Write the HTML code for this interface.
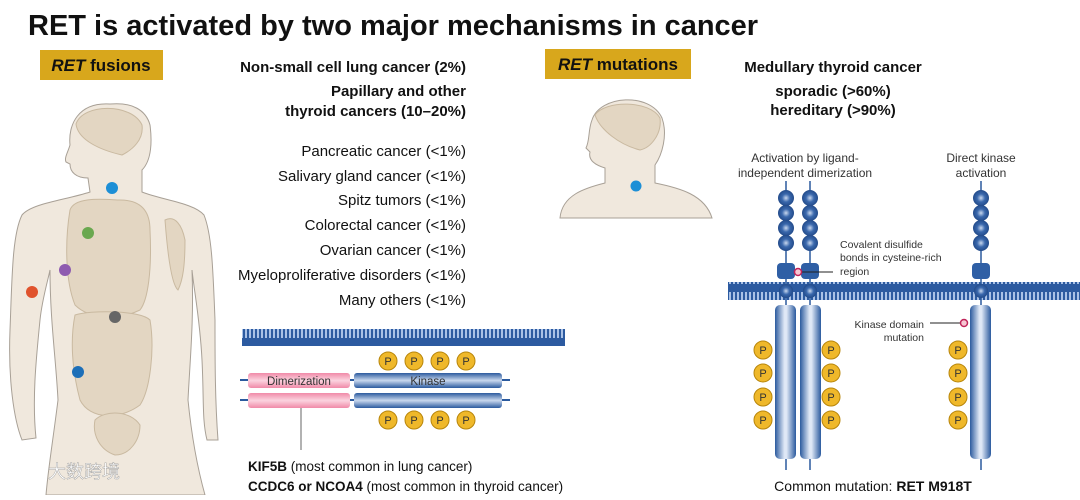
<!DOCTYPE html>
<html><head><meta charset="utf-8"><style>
body{margin:0;width:1080px;height:495px;background:#fff;overflow:hidden;font-family:"Liberation Sans",Arial,sans-serif}
</style></head><body>
<svg width="1080" height="495" viewBox="0 0 1080 495" xmlns="http://www.w3.org/2000/svg" font-family="Liberation Sans, Arial, sans-serif">
<defs>
<pattern id="mem" width="4" height="18" patternUnits="userSpaceOnUse"><rect width="4" height="18" fill="#2c5aa0"/><rect x="1" y="4" width="2" height="10" fill="#a9c1e6"/></pattern>
<linearGradient id="tube" x1="0" x2="1"><stop offset="0" stop-color="#2b5a9e"/><stop offset="0.45" stop-color="#dfe8f6"/><stop offset="0.55" stop-color="#dfe8f6"/><stop offset="1" stop-color="#2b5a9e"/></linearGradient>
<linearGradient id="htube" x1="0" y1="0" x2="0" y2="1"><stop offset="0" stop-color="#2b5a9e"/><stop offset="0.5" stop-color="#c9d8ee"/><stop offset="1" stop-color="#2b5a9e"/></linearGradient>
<linearGradient id="ptube" x1="0" y1="0" x2="0" y2="1"><stop offset="0" stop-color="#f08aa8"/><stop offset="0.5" stop-color="#fbd3df"/><stop offset="1" stop-color="#f08aa8"/></linearGradient>
<radialGradient id="ball" cx="0.5" cy="0.5" r="0.5"><stop offset="0" stop-color="#c9d8ee"/><stop offset="0.5" stop-color="#3a68ad"/><stop offset="1" stop-color="#234b8a"/></radialGradient>
<g id="P"><circle r="9" fill="#efb82a" stroke="#b8860b" stroke-width="1"/><text y="4" text-anchor="middle" font-size="11" fill="#333">P</text></g>
</defs>

<text x="28" y="35" font-size="29" font-weight="bold" fill="#111">RET is activated by two major mechanisms in cancer</text>

<rect x="40" y="50" width="123" height="30" fill="#d8a71c"/>
<text x="101" y="71" text-anchor="middle" font-size="17" font-weight="bold" fill="#111"><tspan font-style="italic">RET</tspan> fusions</text>
<rect x="545" y="49" width="146" height="30" fill="#d8a71c"/>
<text x="618" y="70" text-anchor="middle" font-size="17" font-weight="bold" fill="#111"><tspan font-style="italic">RET</tspan> mutations</text>

<!-- body -->
<g fill="#f0e8dd" stroke="#a8a096" stroke-width="1">
<path d="M110 104 C78 102 68 125 70 145 C68 152 64 158 66 162 L70 164 C70 172 76 178 88 178 L90 192 C66 200 32 203 22 215 C12 235 12 280 10 330 C8 380 14 420 22 440 L36 438 C32 400 36 360 40 320 C42 300 48 280 50 270 C50 320 56 360 58 400 C53 440 48 470 46 495 L205 495 C198 470 192 440 188 400 C190 360 194 320 192 270 C194 290 200 320 202 360 C204 400 202 420 207 440 L218 440 C215 400 215 360 215 320 C213 270 212 235 204 215 C194 203 162 200 142 192 L142 170 C152 160 152 140 150 125 C146 110 132 102 110 104 Z"/>
</g>
<g fill="#e3d6c2" stroke="#c9b9a0" stroke-width="1">
<path d="M76 124 C83 103 132 103 142 125 C144 140 132 150 122 155 C100 150 78 140 76 124 Z"/>
<path d="M70 210 C75 195 110 200 120 200 C140 200 150 210 150 230 C152 270 148 300 140 310 C120 320 90 320 75 305 C65 280 65 240 70 210 Z"/>
<path d="M75 315 C90 310 140 310 150 320 C155 350 150 390 140 405 C120 420 90 420 80 400 C72 370 70 340 75 315 Z"/>
<path d="M165 220 C175 215 182 225 185 240 C185 265 183 280 178 290 C172 285 168 260 165 220 Z"/>
<path d="M95 420 C105 410 130 410 140 425 C140 440 130 455 115 455 C100 450 92 435 95 420 Z"/>
</g>
<circle cx="112" cy="188" r="6" fill="#1d8fd6"/>
<circle cx="88" cy="233" r="6" fill="#6aa84f"/>
<circle cx="65" cy="270" r="6" fill="#8e5bb0"/>
<circle cx="32" cy="292" r="6" fill="#e0532d"/>
<circle cx="115" cy="317" r="6" fill="#666"/>
<circle cx="78" cy="372" r="6" fill="#1d6fb8"/>
<text x="48" y="478" font-size="18" fill="#fff" stroke="#999" stroke-width="0.4" font-family="Liberation Sans, Noto Sans CJK SC, sans-serif">大数跨境</text>

<!-- small head -->
<g fill="#f0e8dd" stroke="#a8a096" stroke-width="1">
<path d="M560 218 C562 195 585 188 605 183 L605 168 C595 165 588 160 590 152 L586 148 C590 140 588 130 592 120 C600 95 650 92 662 118 C668 135 662 155 655 165 L655 183 C680 188 705 195 712 218 Z"/>
</g>
<path d="M595 115 C605 100 650 100 660 118 C662 135 650 148 640 150 C620 145 600 130 595 115 Z" fill="#e3d6c2" stroke="#c9b9a0"/>
<circle cx="636" cy="186" r="5.5" fill="#1d8fd6"/>

<!-- middle text -->
<g font-size="15" fill="#111" text-anchor="end">
<text x="466" y="72" font-weight="bold">Non-small cell lung cancer (2%)</text>
<text x="466" y="96" font-weight="bold">Papillary and other</text>
<text x="466" y="116" font-weight="bold">thyroid cancers (10–20%)</text>
<text x="466" y="156">Pancreatic cancer (&lt;1%)</text>
<text x="466" y="181">Salivary gland cancer (&lt;1%)</text>
<text x="466" y="205">Spitz tumors (&lt;1%)</text>
<text x="466" y="230">Colorectal cancer (&lt;1%)</text>
<text x="466" y="255">Ovarian cancer (&lt;1%)</text>
<text x="466" y="280">Myeloproliferative disorders (&lt;1%)</text>
<text x="466" y="305">Many others (&lt;1%)</text>
</g>

<!-- fusion diagram -->
<rect x="242" y="329" width="323" height="17" fill="url(#mem)"/>
<line x1="240" y1="380" x2="510" y2="380" stroke="#2b5a9e" stroke-width="2"/>
<line x1="240" y1="400" x2="510" y2="400" stroke="#2b5a9e" stroke-width="2"/>
<rect x="248" y="373" width="102" height="15" rx="3" fill="url(#ptube)"/>
<rect x="248" y="393" width="102" height="15" rx="3" fill="url(#ptube)"/>
<rect x="354" y="373" width="148" height="15" rx="3" fill="url(#htube)"/>
<rect x="354" y="393" width="148" height="15" rx="3" fill="url(#htube)"/>
<text x="299" y="385" text-anchor="middle" font-size="11.5" fill="#333">Dimerization</text>
<text x="428" y="385" text-anchor="middle" font-size="11.5" fill="#333">Kinase</text>
<use href="#P" x="388" y="361"/><use href="#P" x="414" y="361"/><use href="#P" x="440" y="361"/><use href="#P" x="466" y="361"/>
<use href="#P" x="388" y="420"/><use href="#P" x="414" y="420"/><use href="#P" x="440" y="420"/><use href="#P" x="466" y="420"/>
<line x1="301" y1="408" x2="301" y2="450" stroke="#666" stroke-width="1"/>
<text x="248" y="471" font-size="13.5" fill="#111"><tspan font-weight="bold">KIF5B</tspan> (most common in lung cancer)</text>
<text x="248" y="491" font-size="13.5" fill="#111"><tspan font-weight="bold">CCDC6 or NCOA4</tspan> (most common in thyroid cancer)</text>

<!-- mutation text -->
<g font-size="15" font-weight="bold" fill="#111" text-anchor="middle">
<text x="833" y="72">Medullary thyroid cancer</text>
<text x="833" y="96">sporadic (&gt;60%)</text>
<text x="833" y="115">hereditary (&gt;90%)</text>
</g>
<g font-size="12" fill="#333" text-anchor="middle">
<text x="805" y="162">Activation by ligand-</text>
<text x="805" y="177">independent  dimerization</text>
<text x="981" y="162">Direct kinase</text>
<text x="981" y="177">activation</text>
</g>
<text x="840" y="248" font-size="10.5" fill="#333">Covalent disulfide</text>
<text x="840" y="261" font-size="10.5" fill="#333">bonds in cysteine-rich</text>
<text x="840" y="275" font-size="10.5" fill="#333">region</text>
<text x="924" y="328" font-size="10.5" fill="#333" text-anchor="end">Kinase domain</text>
<text x="924" y="341" font-size="10.5" fill="#333" text-anchor="end">mutation</text>

<rect x="728" y="282" width="352" height="18" fill="url(#mem)"/>
<g stroke="#2b5a9e" stroke-width="1.5">
<line x1="786" y1="181" x2="786" y2="470"/><line x1="810" y1="181" x2="810" y2="470"/><line x1="981" y1="181" x2="981" y2="470"/>
</g>
<g>
<rect x="775" y="305" width="21" height="154" rx="5" fill="url(#tube)"/>
<rect x="800" y="305" width="21" height="154" rx="5" fill="url(#tube)"/>
<rect x="970" y="305" width="21" height="154" rx="5" fill="url(#tube)"/>
</g>
<g fill="url(#ball)">
<circle cx="786" cy="198" r="8"/><circle cx="786" cy="213" r="8"/><circle cx="786" cy="228" r="8"/><circle cx="786" cy="243" r="8"/>
<circle cx="810" cy="198" r="8"/><circle cx="810" cy="213" r="8"/><circle cx="810" cy="228" r="8"/><circle cx="810" cy="243" r="8"/>
<circle cx="981" cy="198" r="8"/><circle cx="981" cy="213" r="8"/><circle cx="981" cy="228" r="8"/><circle cx="981" cy="243" r="8"/>
<circle cx="786" cy="291" r="7"/><circle cx="810" cy="291" r="7"/><circle cx="981" cy="291" r="7"/>
</g>
<rect x="777" y="263" width="18" height="16" rx="4" fill="#2f5fa5"/>
<rect x="801" y="263" width="18" height="16" rx="4" fill="#2f5fa5"/>
<rect x="972" y="263" width="18" height="16" rx="4" fill="#2f5fa5"/>
<line x1="798" y1="272" x2="833" y2="272" stroke="#222" stroke-width="1"/>
<circle cx="798" cy="272" r="3.5" fill="#f7c6d3" stroke="#c0245a" stroke-width="1.5"/>
<line x1="930" y1="323" x2="964" y2="323" stroke="#222" stroke-width="1"/>
<circle cx="964" cy="323" r="3.5" fill="#f7c6d3" stroke="#c0245a" stroke-width="1.5"/>
<use href="#P" x="763" y="350"/><use href="#P" x="763" y="373"/><use href="#P" x="763" y="397"/><use href="#P" x="763" y="420"/>
<use href="#P" x="831" y="350"/><use href="#P" x="831" y="373"/><use href="#P" x="831" y="397"/><use href="#P" x="831" y="420"/>
<use href="#P" x="958" y="350"/><use href="#P" x="958" y="373"/><use href="#P" x="958" y="397"/><use href="#P" x="958" y="420"/>
<text x="873" y="491" font-size="14" fill="#111" text-anchor="middle">Common mutation: <tspan font-weight="bold">RET M918T</tspan></text>
</svg>
</body></html>
